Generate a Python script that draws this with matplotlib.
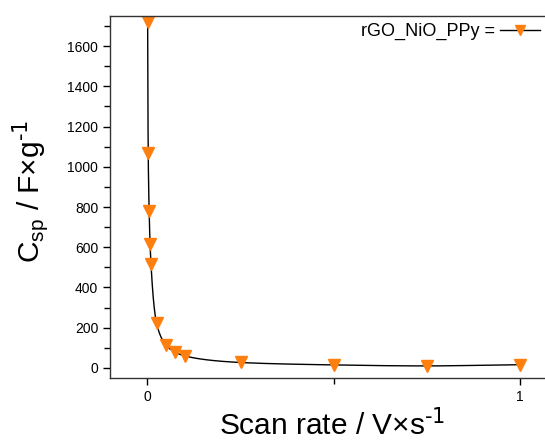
import matplotlib
matplotlib.use('Agg')
import matplotlib.pyplot as plt
import numpy as np
from matplotlib.ticker import MultipleLocator

plt.rcParams['font.family'] = ['Liberation Sans', 'DejaVu Sans']
plt.rcParams['mathtext.default'] = 'regular'

# 扫描速率 与 比电容
scan_rate = [0.001, 0.0025, 0.005, 0.0075, 0.01, 0.025, 0.05, 0.075, 0.1, 0.25, 0.5, 0.75, 1.0]
csp = [1719, 1067, 781, 616, 515, 222, 114, 78, 60, 27, 15, 10, 16]
series_name = 'rGO_NiO_PPy ='


def pchip(x, y, xn):
    # 单调三次插值 (log x 空间), 只用来画平滑连线
    x = np.asarray(x, float)
    y = np.asarray(y, float)
    h = np.diff(x)
    d = np.diff(y) / h
    m = np.zeros_like(y)
    for i in range(1, len(y) - 1):
        if d[i - 1] * d[i] > 0:
            w1 = 2 * h[i] + h[i - 1]
            w2 = h[i] + 2 * h[i - 1]
            m[i] = (w1 + w2) / (w1 / d[i - 1] + w2 / d[i])
    m[0] = d[0]
    m[-1] = d[-1]
    idx = np.clip(np.searchsorted(x, xn) - 1, 0, len(h) - 1)
    t = (xn - x[idx]) / h[idx]
    h00 = 2 * t**3 - 3 * t**2 + 1
    h10 = t**3 - 2 * t**2 + t
    h01 = -2 * t**3 + 3 * t**2
    h11 = t**3 - t**2
    return h00 * y[idx] + h10 * h[idx] * m[idx] + h01 * y[idx + 1] + h11 * h[idx] * m[idx + 1]


lx = np.log10(scan_rate)
xs = np.linspace(lx[0], lx[-1], 800)
ys = pchip(lx, csp, xs)

fig = plt.figure(figsize=(5.45, 4.41), dpi=100)
ax = fig.add_axes([0.2018, 0.1429, 0.8213, 0.8209])

ax.plot(10**xs, ys, color='black', linewidth=1)
ax.plot(scan_rate, csp, linestyle='none', marker='v', markersize=9,
        color='#ff7f0e', markeredgecolor='#ff7f0e')
# 图例用的句柄
ax.plot([], [], color='black', linewidth=1, marker='v', markersize=9,
        markerfacecolor='#ff7f0e', markeredgecolor='#ff7f0e', label=series_name)

ax.set_xlim(-0.1, 1.1)
ax.set_ylim(-50, 1750)
ax.set_xticks([0, 1])
ax.set_xticklabels(['0', '1'])
ax.xaxis.set_minor_locator(MultipleLocator(0.5))
ax.yaxis.set_major_locator(MultipleLocator(200))
ax.yaxis.set_minor_locator(MultipleLocator(100))

ax.tick_params(which='both', direction='out', top=False, right=False, labelsize=10, width=1)
ax.tick_params(which='major', length=5)
ax.tick_params(which='minor', length=4)
for s in ax.spines.values():
    s.set_color('#333333')
    s.set_linewidth(1)

ax.set_xlabel(r'Scan rate / V×s$^{\text{-1}}$', fontsize=21.5, va='center')
ax.set_ylabel(r'C$_{sp}$ / F×g$^{\text{-1}}$', fontsize=21.5, va='center')
ax.yaxis.set_label_coords(-0.178, 0.515)
ax.xaxis.set_label_coords(0.496, -0.128)

leg = ax.legend(loc='upper right', bbox_to_anchor=(540 / 545, 1 - 23 / 441),
                bbox_transform=fig.transFigure, frameon=False, fontsize=13,
                markerfirst=False, handlelength=2.2, handletextpad=0.3,
                borderpad=0, borderaxespad=0, markerscale=0.8)

fig.savefig('out.png', dpi=100)
